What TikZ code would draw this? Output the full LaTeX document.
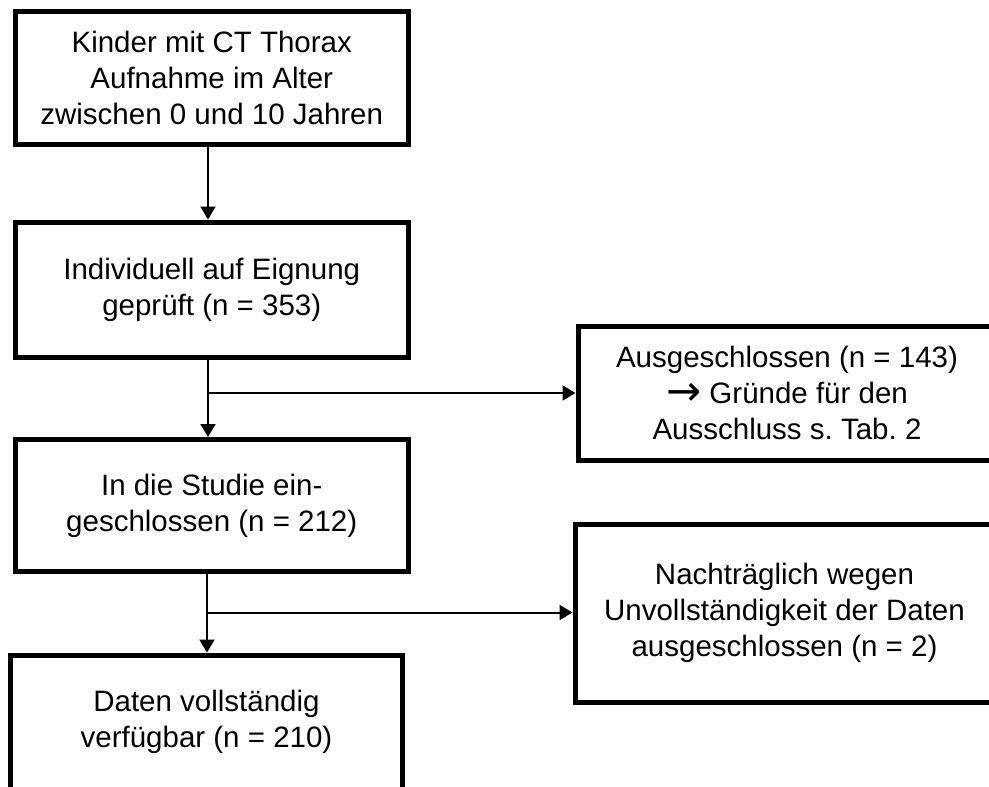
\documentclass[tikz,border=0pt]{standalone}
\usepackage{fontspec}
\setmainfont{Liberation Sans}
\newfontfamily\arrowfont{DejaVu Sans}
\usetikzlibrary{arrows.meta}

\begin{document}
\begin{tikzpicture}[x=1pt, y=-1pt,
    box/.style={draw, rectangle, line width=5pt, inner sep=0pt, align=center,
        font=\fontsize{29.5}{36}\selectfont\frenchspacing},
    arr/.style={line width=2pt, -{Triangle[width=15pt,length=13pt]}}]
    \useasboundingbox (0,0) rectangle (989,787);
    \clip (0,0) rectangle (989,787);

    % left column
    \node[box, minimum width=392.5pt, minimum height=133.5pt] (kinder) at (211.75,77.75)
        {Kinder mit CT Thorax\\Aufnahme im Alter\\zwischen 0 und 10 Jahren};
    \node[box, minimum width=392.5pt, minimum height=135pt] (pruef) at (211.75,289.5)
        {Individuell auf Eignung\\geprüft (n = 353)};
    \node[box, minimum width=392.5pt, minimum height=132pt] (studie) at (211.75,505.5)
        {In die Studie ein-\\geschlossen (n = 212)};
    \node[box, minimum width=392pt, minimum height=134pt] (daten) at (206.5,722)
        {Daten vollständig\\verfügbar (n = 210)};

    % right column
    \node[box, minimum width=418pt, minimum height=133.5pt] (ausschluss) at (787,393.25)
        {Ausgeschlossen (n = 143)\\{\arrowfont\fontsize{42}{36}\selectfont\raisebox{-2pt}{→}} Gründe für den\\Ausschluss s. Tab. 2};
    \node[box, minimum width=419pt, minimum height=178pt] (nachtr) at (784.5,613)
        {Nachträglich wegen\\Unvollständigkeit der Daten\\ausgeschlossen (n = 2)};

    \coordinate (split1) at (208,393);
    \coordinate (split2) at (207,612.5);

    \draw[arr] (kinder.south -| split1) -- (pruef.north -| split1);
    \draw[arr] (pruef.south -| split1) -- (studie.north -| split1);
    \draw[arr] (split1) -- (split1 -| ausschluss.west);
    \draw[arr] (studie.south -| split2) -- (daten.north -| split2);
    \draw[arr] (split2) -- (split2 -| nachtr.west);
\end{tikzpicture}
\end{document}
